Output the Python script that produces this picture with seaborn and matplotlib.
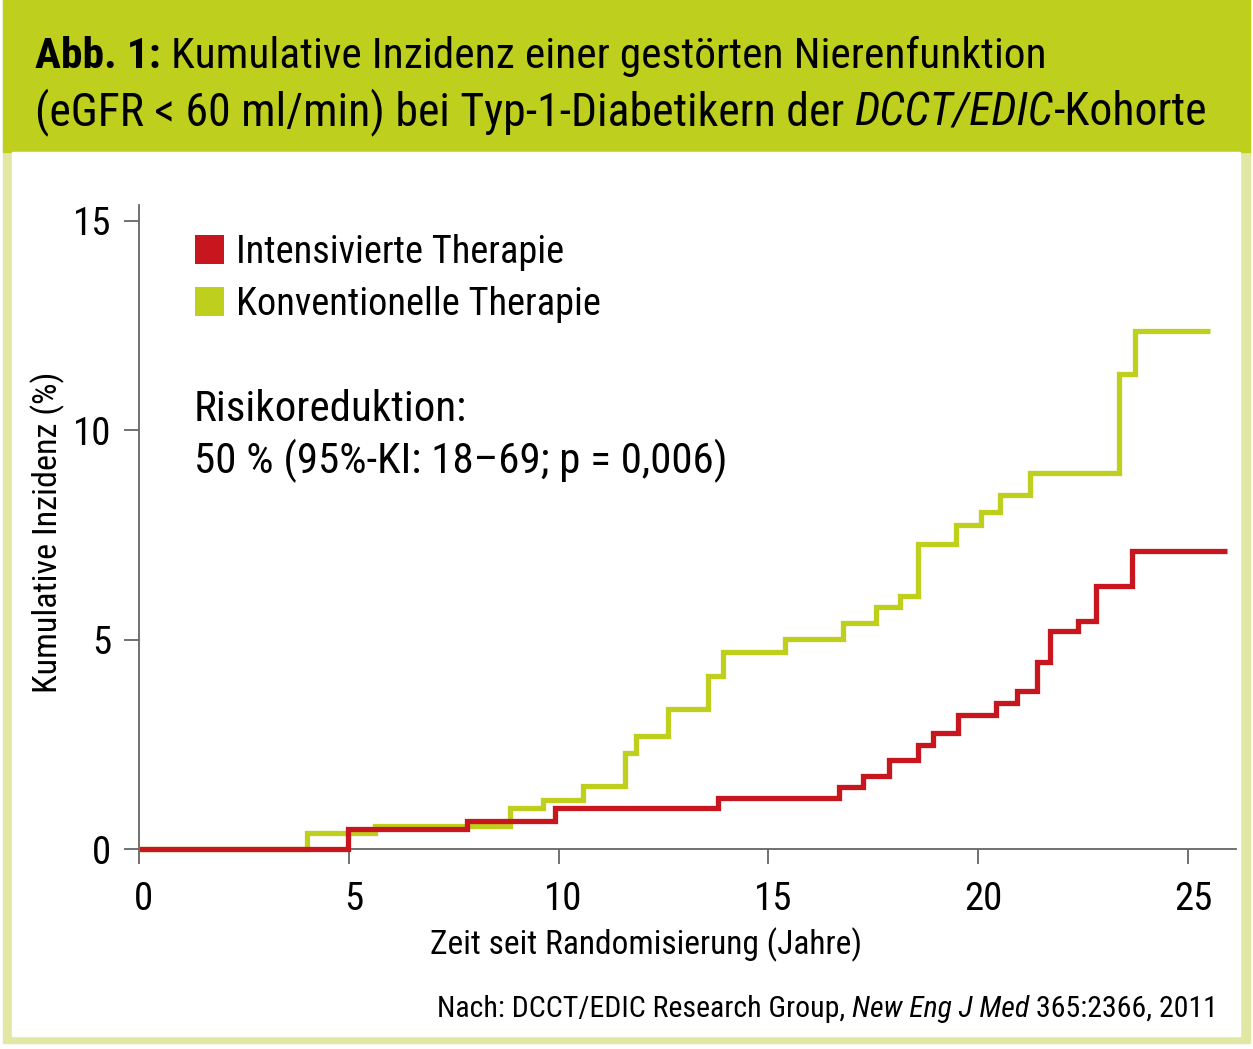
import matplotlib
matplotlib.use("Agg")
import matplotlib.pyplot as plt
from matplotlib import font_manager as fm
from matplotlib.patches import Rectangle, Patch
from matplotlib.transforms import ScaledTranslation
import numpy as np
import pandas as pd
import seaborn as sns

# ---------------- data ----------------
series_names = ["Intensivierte Therapie", "Konventionelle Therapie"]

# Intensivierte Therapie: step times (years) and cumulative incidence (%)
t_int = [0.0, 4.98, 7.82, 9.91, 13.80, 16.68, 17.25, 17.87, 18.57, 18.92,
         19.52, 20.42, 20.92, 21.40, 21.71, 22.38, 22.81, 23.67]
y_int = [0.0, 0.48, 0.67, 0.98, 1.22, 1.48, 1.75, 2.12, 2.48, 2.76,
         3.20, 3.48, 3.77, 4.46, 5.20, 5.44, 6.28, 7.11]
end_int = 25.93

# Konventionelle Therapie
t_kon = [0.0, 4.00, 5.62, 8.84, 9.63, 10.58, 11.58, 11.84, 12.61, 13.56,
         13.92, 15.40, 16.78, 17.56, 18.14, 18.57, 19.47, 20.07, 20.52,
         21.23, 23.36, 23.74]
y_kon = [0.0, 0.38, 0.55, 0.98, 1.17, 1.50, 2.29, 2.70, 3.34, 4.13,
         4.70, 5.01, 5.39, 5.77, 6.04, 7.28, 7.73, 8.04, 8.45,
         8.97, 11.33, 12.36]
end_kon = 25.52

x_ticks = [0, 5, 10, 15, 20, 25]
y_ticks = [0, 5, 10, 15]

title_bold = "Abb. 1:"
title_line1 = "Kumulative Inzidenz einer gestörten Nierenfunktion"
title_line2 = [("(eGFR < 60 ml/min) bei Typ-1-Diabetikern der ", "normal"),
               ("DCCT/EDIC", "italic"), ("-Kohorte", "normal")]
x_label = "Zeit seit Randomisierung (Jahre)"
y_label = "Kumulative Inzidenz (%)"
note_lines = ["Risikoreduktion:", "50 % (95%-KI: 18–69; p = 0,006)"]
source_runs = [("Nach: DCCT/EDIC Research Group, ", "normal"),
               ("New Eng J Med", "italic"), (" 365:2366, 2011", "normal")]

# ---------------- style ----------------
RED = "#C8161E"
GREEN = "#BFCF1E"
BORDER = "#E1E8A4"
sns.set_theme(style="white")

# pick a condensed sans face if one is installed
chosen_family, chosen_stretch = "DejaVu Sans", "normal"
prefs = ["Liberation Sans Narrow", "Roboto Condensed", "Open Sans Condensed",
         "DejaVu Sans Condensed", "Noto Sans Condensed"]
names = {f.name for f in fm.fontManager.ttflist}
found = False
for p in prefs:
    if p in names:
        chosen_family, found = p, True
        break
if not found:
    for base in ["Roboto", "Noto Sans", "Open Sans", "DejaVu Sans", "Liberation Sans"]:
        cands = [f for f in fm.fontManager.ttflist if f.name == base and
                 (str(f.stretch).lower() in ("condensed", "semi-condensed", "extra-condensed")
                  or (isinstance(f.stretch, int) and f.stretch < 500))]
        if cands:
            chosen_family, chosen_stretch = base, cands[0].stretch
            found = True
            break

plt.rcParams["font.family"] = [chosen_family, "DejaVu Sans"]
plt.rcParams["font.stretch"] = chosen_stretch

W, H = 1253, 1049
fig = plt.figure(figsize=(W / 100, H / 100), dpi=100, facecolor="white")
renderer = fig.canvas.get_renderer()


def fx(px):
    return px / W


def fy(py):
    return 1 - py / H


def text_width(s, **kw):
    t = fig.text(0, 0, s, **kw)
    w = t.get_window_extent(renderer).width
    t.remove()
    return w


def fit(s, nominal, target, **kw):
    w = text_width(s, fontsize=nominal, **kw)
    return min(nominal * 1.08, nominal * target / w)


# frame, header, inner panel
for (x0, y0, x1, y1, c) in [(3, 0, 1250, 1043, BORDER), (3, 0, 1250, 152, GREEN),
                            (12, 152, 1240, 1036, "white")]:
    fig.patches.append(Rectangle((fx(x0), fy(y1)), fx(x1) - fx(x0), fy(y0) - fy(y1),
                                 transform=fig.transFigure, color=c, zorder=-10))

# ---------------- data frame ----------------
rows = []
for name, ts, ys, te in [(series_names[1], t_kon, y_kon, end_kon),
                         (series_names[0], t_int, y_int, end_int)]:
    for t, v in zip(ts + [te], ys + [ys[-1]]):
        rows.append({"Zeit": t, "Inzidenz": v, "Therapie": name})
df = pd.DataFrame(rows)

ax = fig.add_axes([fx(139), fy(849), fx(1236) - fx(139), fy(205) - fy(849)])
ax.set_facecolor("none")
ax.set_zorder(2)
sns.lineplot(data=df, x="Zeit", y="Inzidenz", hue="Therapie",
             hue_order=[series_names[1], series_names[0]],
             palette={series_names[0]: RED, series_names[1]: GREEN},
             drawstyle="steps-post", estimator=None, sort=False,
             linewidth=3.8, legend=False, ax=ax,
             solid_joinstyle="miter", solid_capstyle="butt", clip_on=False, zorder=5)

ax.set_xlim(0, 26.14)
ax.set_ylim(0, 15.37)
ax.set_xticks(x_ticks)
ax.set_yticks(y_ticks)
ax.set_xticklabels([str(v) for v in x_ticks])
ax.set_yticklabels([str(v) for v in y_ticks])
for s in ["top", "right"]:
    ax.spines[s].set_visible(False)
for s in ["left", "bottom"]:
    ax.spines[s].set_color("#666666")
    ax.spines[s].set_linewidth(1.3)
ax.tick_params(axis="both", which="major", direction="out", color="#666666",
               width=1.3, labelsize=28, labelcolor="black", bottom=True, left=True)
ax.tick_params(axis="y", length=11, pad=9)
ax.tick_params(axis="x", length=11, pad=12)
for lab in ax.get_xticklabels():
    lab.set_transform(lab.get_transform() + ScaledTranslation(5 / 100, 0, fig.dpi_scale_trans))
ax.set_xlabel(x_label, fontsize=fit(x_label, 27, 432), color="black")
ax.set_ylabel(y_label, fontsize=fit(y_label, 27, 320), color="black")
ax.xaxis.set_label_coords((fx(646) - fx(139)) / (fx(1236) - fx(139)),
                          (fy(945) - fy(849)) / (fy(205) - fy(849)))
ax.yaxis.set_label_coords((fx(48) - fx(139)) / (fx(1236) - fx(139)),
                          (fy(532) - fy(849)) / (fy(205) - fy(849)))
ax.xaxis.label.set_va("center")
ax.yaxis.label.set_va("center")
ax.grid(False)

# legend
leg_size = fit(series_names[1], 30, 365)
handles = [Patch(facecolor=RED, edgecolor="none", label=series_names[0]),
           Patch(facecolor=GREEN, edgecolor="none", label=series_names[1])]
sq = 29 / (leg_size * 100 / 72)
leg = ax.legend(handles=handles, loc="upper left",
                bbox_to_anchor=(fx(195), fy(234)), bbox_transform=fig.transFigure,
                frameon=False, fontsize=leg_size, handlelength=sq, handleheight=sq,
                handletextpad=0.3, labelspacing=0.39, borderaxespad=0, borderpad=0)
for t in leg.get_texts():
    t.set_color("black")

# note
note_size = fit(note_lines[1], 30, 534)
for i, line in enumerate(note_lines):
    fig.text(fx(194), fy(421 + 52 * i), line, fontsize=note_size, va="baseline",
             ha="left", color="black")

# ---------------- titles with mixed styles ----------------


def space_width(**kw):
    return text_width("x x", **kw) - text_width("xx", **kw)


def measure_runs(runs, size):
    pieces = []
    for s, style, weight in runs:
        kw = dict(fontsize=size, fontstyle=style, fontweight=weight)
        lead = len(s) - len(s.lstrip(" "))
        trail = len(s) - len(s.rstrip(" "))
        core = s.strip(" ")
        sw = space_width(**kw)
        w = text_width(core, **kw)
        pieces.append((core, kw, lead * sw, w, trail * sw))
    return pieces, sum(a + b + c for _, _, a, b, c in pieces)


def draw_runs(x_px, base_py, runs, nominal, target, align="left"):
    _, total = measure_runs(runs, nominal)
    size = min(nominal * 1.08, nominal * target / total)
    pieces, total = measure_runs(runs, size)
    x = x_px if align == "left" else x_px - total
    for core, kw, lead, w, trail in pieces:
        x += lead
        fig.text(fx(x), fy(base_py), core, va="baseline", ha="left", color="black", **kw)
        x += w + trail


draw_runs(35, 68, [(title_bold + " ", "normal", "bold"), (title_line1, "normal", "normal")],
          35, 1010)
draw_runs(35, 125, [(s, st, "normal") for s, st in title_line2], 35, 1170)
draw_runs(1218, 1017, [(s, st, "normal") for s, st in source_runs], 25, 783, align="right")

fig.savefig("out.png", dpi=100, facecolor="white")
